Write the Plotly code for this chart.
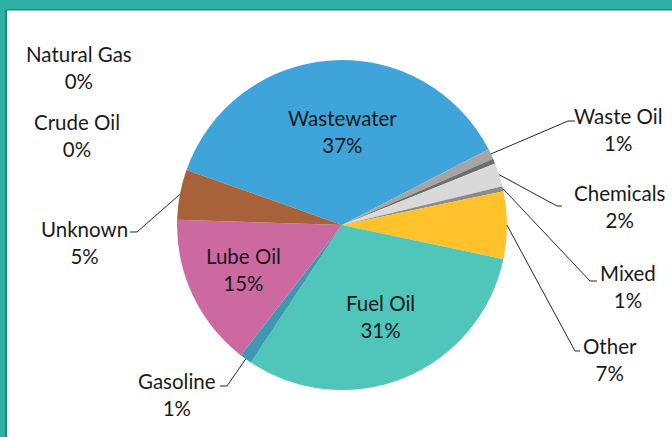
import math
import plotly.graph_objects as go

# ---- data ----
categories = ["Wastewater", "Waste Oil", "", "Chemicals", "Mixed", "Other",
              "Fuel Oil", "Gasoline", "Lube Oil", "Unknown", "Crude Oil", "Natural Gas"]
shares = [37.0, 1.0, 0.5, 2.3, 0.5, 6.6, 31.0, 1.2, 15.0, 4.9, 0.0, 0.0]
pct_labels = ["37%", "1%", "", "2%", "1%", "7%", "31%", "1%", "15%", "5%", "0%", "0%"]
colors = ["#3EA4DA", "#A5A5A5", "#6E6E6E", "#D9D9D9", "#8C8C8C", "#FFC22B",
          "#50C5BA", "#3F98B1", "#CC69A0", "#A8623A", "#7F7F7F", "#5B9BD5"]

W, H = 672, 437
CX, CY, R = 342, 225, 165
ROT = 289.5

FONT = "Lato"
FS = 20.5

def px(x, y):
    return x / W, 1 - y / H

fig = go.Figure()
fig.add_trace(go.Pie(
    labels=categories, values=shares, sort=False, direction="clockwise",
    rotation=ROT, marker=dict(colors=colors, line=dict(width=0)),
    textinfo="none", hoverinfo="label+percent", showlegend=False,
    domain=dict(x=[(CX - R) / W, (CX + R) / W], y=[1 - (CY + R) / H, 1 - (CY - R) / H]),
))

# label placement (layout, pixels): label centre, elbow point, tick end
placement = {
    "Wastewater": dict(lx=342, ly=117),
    "Fuel Oil": dict(lx=380, ly=302),
    "Lube Oil": dict(lx=243, ly=255),
    "Waste Oil": dict(lx=618, ly=115, ex=568, ey=121, tx=575),
    "Chemicals": dict(lx=620, ly=193, ex=557, ey=206, tx=562),
    "Mixed": dict(lx=628, ly=272, ex=590, ey=281, tx=597),
    "Other": dict(lx=610, ly=345, ex=575, ey=351, tx=580),
    "Gasoline": dict(lx=177, ly=380, ex=227, ey=386, tx=220),
    "Unknown": dict(lx=84, ly=228, ex=137, ey=232, tx=130),
    "Natural Gas": dict(lx=79, ly=54),
    "Crude Oil": dict(lx=77, ly=121),
}

total = sum(shares)
cum = 0.0
mid_angle = {}
for c, v in zip(categories, shares):
    mid_angle[c] = ROT + (cum + v / 2) / total * 360
    cum += v

shapes = []
annotations = []
for c, p in zip(categories, pct_labels):
    if c not in placement:
        continue
    o = placement[c]
    annotations.append(dict(
        x=px(o["lx"], 0)[0], y=px(0, o["ly"] + 14)[1], xref="paper", yref="paper",
        text=f"{c}<br>{p}", showarrow=False, align="center",
        font=dict(family=FONT, size=FS, color="#1a1a1a"), xanchor="center", yanchor="middle"))
    if "ex" in o:
        a = math.radians(mid_angle[c])
        sx = CX + R * math.sin(a)
        sy = CY - R * math.cos(a)
        x0, y0 = px(sx, sy)
        x1, y1 = px(o["ex"], o["ey"])
        x2, _ = px(o["tx"], o["ey"])
        shapes.append(dict(type="path", xref="paper", yref="paper",
                           path=f"M {x0} {y0} L {x1} {y1} L {x2} {y1}",
                           line=dict(color="#262626", width=1)))

# frame
teal = "#2DB0A4"
dark = "#22877E"
def rect(x0, y0, x1, y1, col):
    a, b = px(x0, y0)
    c, d = px(x1, y1)
    return dict(type="rect", xref="paper", yref="paper", x0=a, y0=b, x1=c, y1=d,
                fillcolor=col, line=dict(width=0), layer="above")
shapes += [rect(0, 0, W, 9, teal), rect(6, 9, W, 10.5, dark),
           rect(0, 0, 6, H, teal), rect(5, 10, 7, H, dark)]

fig.update_layout(width=W, height=H, margin=dict(l=0, r=0, t=0, b=0),
                  paper_bgcolor="white", plot_bgcolor="white",
                  shapes=shapes, annotations=annotations)
fig.write_html("out.html", config={"displayModeBar": False},
               post_script="document.body.style.margin='0';")
